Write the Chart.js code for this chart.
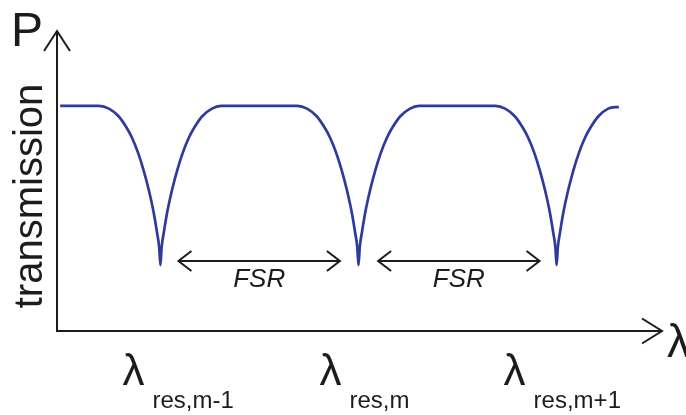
<!DOCTYPE html>
<html lang="en">
<head>
    <meta charset="UTF-8">
    <title>Ring resonator transmission</title>
    <script src="https://cdn.jsdelivr.net/npm/chart.js"></script>
    <style>
        body { margin: 0; background: #fff; }
        canvas { display: block; }
    </style>
</head>
<body>
    <canvas id="ringChart" width="686" height="415"></canvas>

    <script>
        // wavelength in units of FSR, resonances sit at 1, 2 and 3
        const wavelength = [
            0.494, 0.600,
            0.690, 0.740, 0.790, 0.828, 0.856, 0.886, 0.916, 0.942, 0.966, 0.982, 0.994, 1.000,
            1.006, 1.018, 1.034, 1.058, 1.084, 1.114, 1.144, 1.172, 1.210, 1.260, 1.306,
            1.500,
            1.690, 1.740, 1.790, 1.828, 1.856, 1.886, 1.916, 1.942, 1.966, 1.982, 1.994, 2.000,
            2.006, 2.018, 2.034, 2.058, 2.084, 2.114, 2.144, 2.172, 2.210, 2.260, 2.306,
            2.500,
            2.690, 2.740, 2.790, 2.828, 2.856, 2.886, 2.916, 2.942, 2.966, 2.982, 2.994, 3.000,
            3.006, 3.018, 3.034, 3.058, 3.084, 3.114, 3.144, 3.172, 3.210, 3.260, 3.314
        ];
        const transmission = [
            1.000, 1.000,
            1.000, 0.988, 0.953, 0.905, 0.860, 0.795, 0.712, 0.624, 0.526, 0.442, 0.370, 0.293,
            0.370, 0.442, 0.526, 0.624, 0.712, 0.795, 0.860, 0.905, 0.953, 0.988, 1.000,
            1.000,
            1.000, 0.988, 0.953, 0.905, 0.860, 0.795, 0.712, 0.624, 0.526, 0.442, 0.370, 0.293,
            0.370, 0.442, 0.526, 0.624, 0.712, 0.795, 0.860, 0.905, 0.953, 0.988, 1.000,
            1.000,
            1.000, 0.988, 0.953, 0.905, 0.860, 0.795, 0.712, 0.624, 0.526, 0.442, 0.370, 0.293,
            0.370, 0.442, 0.526, 0.624, 0.712, 0.795, 0.860, 0.905, 0.953, 0.988, 0.996
        ];

        const resonances = [1.0, 2.0, 3.0];
        const resonanceLabels = ['res,m-1', 'res,m', 'res,m+1'];

        // free spectral range arrows between neighbouring dips
        const fsrStart = [1.091, 2.099];
        const fsrEnd = [1.906, 2.914];
        const fsrLevel = 0.311;
        const fsrText = 'FSR';

        const xMin = 0.478, xMax = 3.532;
        const yMin = 0, yMax = 1.333;

        const FONT = '"Liberation Sans", Arial, sans-serif';
        const INK = '#1c1c1c';

        function chevron(ctx, tipX, tipY, dx, dy, horizontal) {
            ctx.beginPath();
            if (horizontal) {
                ctx.moveTo(tipX + dx, tipY - dy);
                ctx.lineTo(tipX, tipY);
                ctx.lineTo(tipX + dx, tipY + dy);
            } else {
                ctx.moveTo(tipX - dx, tipY + dy);
                ctx.lineTo(tipX, tipY);
                ctx.lineTo(tipX + dx, tipY + dy);
            }
            ctx.stroke();
        }

        const sketchPlugin = {
            id: 'sketch',
            afterDraw(chart) {
                const ctx = chart.ctx;
                const xs = chart.scales.x, ys = chart.scales.y;
                ctx.save();
                ctx.strokeStyle = INK;
                ctx.fillStyle = INK;
                ctx.lineWidth = 2;
                ctx.lineCap = 'butt';
                ctx.lineJoin = 'miter';

                // axes with open arrow heads
                const x0 = xs.getPixelForValue(xMin);
                const y0 = ys.getPixelForValue(yMin);
                const xEnd = xs.getPixelForValue(xMax);
                const yEnd = ys.getPixelForValue(yMax);
                ctx.beginPath();
                ctx.moveTo(x0, yEnd);
                ctx.lineTo(x0, y0);
                ctx.lineTo(xEnd, y0);
                ctx.stroke();
                chevron(ctx, x0, yEnd, 13, 20, false);
                chevron(ctx, xEnd, y0, -20, 12.5, true);

                // axis names
                ctx.textBaseline = 'alphabetic';
                ctx.textAlign = 'left';
                ctx.font = '48px ' + FONT;
                ctx.fillText('P', 11, 46);
                ctx.font = '46px ' + FONT;
                ctx.fillText('λ', xEnd + 5, 357);

                ctx.save();
                ctx.translate(42, 196);
                ctx.rotate(-Math.PI / 2);
                ctx.textAlign = 'center';
                ctx.font = '40px ' + FONT;
                ctx.fillText('transmission', 0, 0);
                ctx.restore();

                // resonance labels under each dip
                const shift = [-38, -39, -53];
                resonances.forEach((r, i) => {
                    const px = xs.getPixelForValue(r) + shift[i];
                    ctx.font = '44px ' + FONT;
                    ctx.fillText('λ', px, 385);
                    ctx.font = '24px ' + FONT;
                    ctx.fillText(resonanceLabels[i], px + 30, 408);
                });

                // FSR arrows
                const ay = ys.getPixelForValue(fsrLevel);
                fsrStart.forEach((s, i) => {
                    const a = xs.getPixelForValue(s);
                    const b = xs.getPixelForValue(fsrEnd[i]);
                    ctx.beginPath();
                    ctx.moveTo(a, ay);
                    ctx.lineTo(b, ay);
                    ctx.stroke();
                    chevron(ctx, a, ay, 13, 10, true);
                    chevron(ctx, b, ay, -13, 10, true);
                    ctx.font = 'italic 26px ' + FONT;
                    ctx.textAlign = 'center';
                    ctx.fillText(fsrText, (a + b) / 2, 287);
                    ctx.textAlign = 'left';
                });
                ctx.restore();
            }
        };

        new Chart(document.getElementById('ringChart').getContext('2d'), {
            type: 'line',
            data: {
                datasets: [{
                    data: wavelength.map((w, i) => ({ x: w, y: transmission[i] })),
                    borderColor: '#2e3a9c',
                    borderWidth: 2.7,
                    pointRadius: 0,
                    cubicInterpolationMode: 'monotone',
                    fill: false
                }]
            },
            options: {
                responsive: false,
                animation: false,
                devicePixelRatio: 1,
                layout: { padding: { left: 57, right: 24, top: 31, bottom: 84 } },
                plugins: { legend: { display: false }, tooltip: { enabled: false } },
                scales: {
                    x: { type: 'linear', min: xMin, max: xMax, display: false },
                    y: { min: yMin, max: yMax, display: false }
                }
            },
            plugins: [sketchPlugin]
        });
    </script>
</body>
</html>
